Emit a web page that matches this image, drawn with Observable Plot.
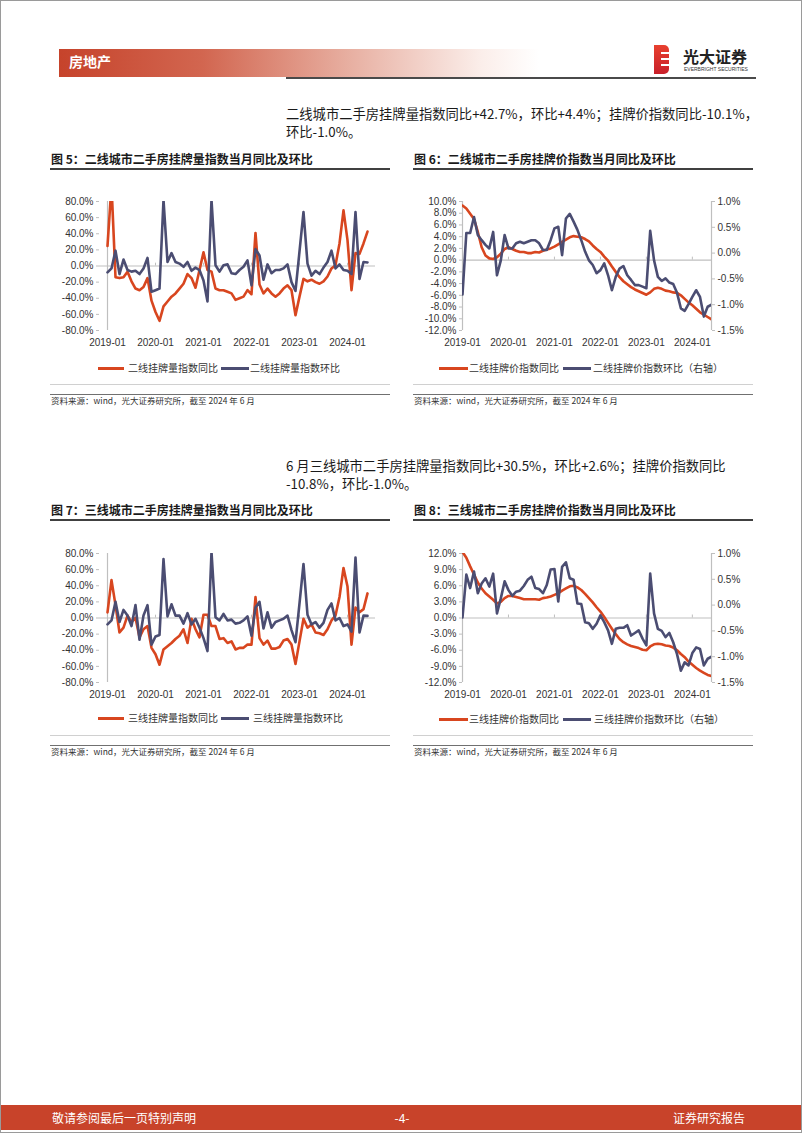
<!DOCTYPE html>
<html><head><meta charset="utf-8">
<script src="https://cdn.jsdelivr.net/npm/d3@7"></script>
<script src="https://cdn.jsdelivr.net/npm/@observablehq/plot@0.6"></script>
<style>
html,body{margin:0;padding:0;background:#fff;}
#page{position:relative;width:802px;height:1133px;overflow:hidden;background:#fff;box-sizing:border-box;border:1px solid #9a9a9a;font-family:"Noto Sans CJK SC","Noto Sans",sans-serif;}
.abs{position:absolute;white-space:nowrap;}
.title{font-size:12px;font-weight:bold;color:#1a1a1a;line-height:1;}
.tline{position:absolute;height:1.5px;background:#404040;}
.sline{position:absolute;height:1px;background:#d0d0d0;}
.sline2{position:absolute;height:1px;background:#707070;}
.src{font-size:8.5px;color:#333;line-height:1;}
.para{font-size:13.3px;color:#1a1a1a;line-height:1;}
.leg{font-size:10px;color:#333;line-height:1;}
.sw{position:absolute;height:3px;}
.chart{position:absolute;}
</style></head>
<body><div id="page"></div>
<script>
// ---------- data ----------
const months = d3.utcMonth.range(new Date(Date.UTC(2019,0,1)), new Date(Date.UTC(2024,6,1))).map(d3.utcFormat("%Y-%m"));
const yearTicks = ["2019-01","2020-01","2021-01","2022-01","2023-01","2024-01"];

// Fig 5: 二线 listing volume index
const tier2VolYoY = [25,100,-14,-15,-14,-7,-19,-28,-30,-26,-15,-43,
  -57,-68,-50,-44,-38,-34,-28,-22,-10,-15,-27,-5,
  17,-5,-7,-28,-30,-30,-32,-34,-42,-40,-38,-30,
  -35,41,-23,-34,-28,-34,-38,-34,-28,-24,-30,-61,
  -38,-16,-19,-17,-20,-22,-19,-13,-3,1,28,69,
  32,-30,16,15,28,42.7];
const tier2VolMoM = [-8,-3,19,-10,8,-5,-7,-6,-10,-3,10,-32,
  -30,-28,82,5,16,5,3,-1,5,-6,-2,-5,
  -18,-44,82,1,-7,1,2,-9,-10,-5,-1,7,
  -24,21,13,-17,2,-9,-5,-5,-3,2,-20,-31,
  18,67,3,-12,-6,-10,-2,5,19,-3,2,-5,
  -6,-10,67,-16,5,4.4];

// Fig 6: 二线 listing price index
const tier2PriceYoY = [9.3,8.8,7.9,7.0,4.8,2.2,0.8,0.3,0.2,0.5,1.1,1.9,
  2.2,1.9,1.6,1.4,1.4,1.2,1.2,1.4,1.3,1.6,1.8,2.0,
  2.3,2.7,3.1,3.5,3.9,4.1,4.0,3.9,3.6,3.2,2.5,1.9,
  1.4,0.6,-0.1,-1.1,-2.0,-2.9,-3.6,-4.1,-4.6,-5.0,-5.3,-5.6,
  -5.9,-5.5,-4.9,-4.7,-4.9,-5.2,-5.3,-5.5,-5.6,-6.0,-6.6,-7.2,
  -7.7,-8.3,-8.9,-9.3,-9.7,-10.1];
const tier2PriceMoM = [-0.80,0.39,0.39,0.70,0.35,0.25,0.16,0.09,0.41,-0.43,-0.14,0.35,
  0.09,0.09,0.19,0.22,0.19,0.22,0.25,0.25,0.19,0.06,0.06,0.25,
  0.48,0.51,-0.04,0.67,0.76,0.61,0.45,0.25,0.03,-0.14,-0.23,-0.39,
  -0.33,-0.20,-0.43,-0.72,-0.46,-0.30,-0.25,-0.43,-0.52,-0.62,-0.62,-0.65,
  -0.68,0.43,-0.14,-0.46,-0.54,-0.49,-0.57,-0.60,-0.77,-1.07,-1.12,-0.99,
  -0.85,-0.72,-0.85,-1.23,-1.04,-1.0];

// Fig 7: 三线 listing volume index
const tier3VolYoY = [7,47,16,-18,-12,3,-5,0,-24,-14,-10,-37,
  -45,-58,-39,-35,-31,-26,-22,-14,-31,-1,-14,-24,
  4,4,-10,-10,-26,-25,-31,-29,-39,-37,-37,-33,
  -33,26,-25,-33,-28,-38,-38,-36,-28,-26,-33,-57,
  -29,-1,-12,-8,-18,-19,-21,-14,-3,3,26,62,
  39,-33,13,7,11,30.5];
const tier3VolMoM = [-8,-3,20,-5,10,3,-10,16,-27,3,16,-33,
  -23,-21,73,2,17,3,3,-7,6,-8,-1,-12,
  -25,-41,82,1,-3,5,-3,-2,-7,-6,-3,2,
  -22,13,20,-13,7,-12,-5,-3,-1,3,-15,-30,
  18,67,4,-8,-5,-12,-6,10,18,-3,0,-10,
  -8,-17,75,-18,3,2.6];

// Fig 8: 三线 listing price index
const tier3PriceYoY = [12.3,11.2,9.6,8.1,6.6,5.5,4.6,4.0,3.4,2.7,3.0,3.7,
  4.1,4.1,3.9,3.7,3.5,3.5,3.5,3.5,3.4,3.7,3.8,4.0,
  4.3,4.6,5.1,5.5,5.9,6.0,5.7,5.2,4.5,3.7,2.9,2.0,
  1.2,0.2,-0.9,-2.0,-3.0,-3.9,-4.5,-4.9,-5.2,-5.4,-5.6,-5.9,
  -6.0,-5.3,-4.9,-4.8,-4.9,-5.1,-5.2,-5.5,-6.0,-6.7,-7.3,-8.1,
  -8.7,-9.3,-9.8,-10.2,-10.6,-10.8];
const tier3PriceMoM = [-0.24,0.59,0.33,0.65,0.23,0.42,0.52,0.36,0.61,-0.16,0.13,0.46,
  0.29,0.18,0.26,0.28,0.37,0.49,0.55,0.33,0.31,0.23,0.39,0.69,
  0.70,0.07,0.74,0.83,0.52,0.49,0.03,0.02,-0.33,-0.35,-0.46,-0.36,
  -0.20,-0.33,-0.49,-0.75,-0.46,-0.44,-0.44,-0.39,-0.59,-0.54,-0.49,-0.65,
  -0.78,0.61,-0.16,-0.46,-0.50,-0.62,-0.54,-0.72,-0.95,-1.27,-1.11,-1.17,
  -0.93,-0.82,-0.85,-1.17,-1.04,-1.0];

const volTicks = [-80,-60,-40,-20,0,20,40,60,80];
const price2LeftTicks = [-12,-10,-8,-6,-4,-2,0,2,4,6,8,10];
const price3LeftTicks = [-12,-9,-6,-3,0,3,6,9,12];
const priceRightTicks = [-1.5,-1.0,-0.5,0,0.5,1.0];

// ---------- style ----------
const ORANGE = "#d8461f";
const NAVY = "#4b4d72";
const AXIS = "#bfbfbf";
const TXT = "#333333";
const pct = d => d.toFixed(1) + "%";
const baseStyle = {fontFamily: "'Liberation Sans', Arial, sans-serif", fontSize: "10px", color: TXT, background: "transparent", overflow: "visible"};

const page = document.getElementById("page");
function add(html){ page.insertAdjacentHTML("beforeend", html); }

function volChart(yoy, mom){
  const a = months.map((m,i)=>({m, v: yoy[i]}));
  const b = months.map((m,i)=>({m, v: mom[i]}));
  return Plot.plot({
    width: 350, height: 165, marginLeft: 58, marginRight: 16, marginTop: 10, marginBottom: 26,
    style: baseStyle,
    x: {type: "point", domain: months, padding: 0},
    y: {domain: [-80, 80]},
    marks: [
      Plot.ruleY([0], {stroke: AXIS, strokeWidth: 1.2}),
      Plot.ruleX(yearTicks, {x: d => d, y1: 0, y2: 3.5, stroke: AXIS}),
      Plot.ruleX([months[0]], {stroke: AXIS, strokeWidth: 1.2}),
      Plot.axisY(volTicks, {tickSize: 3, tickPadding: 3, tickFormat: pct, stroke: AXIS, fill: TXT, label: null}),
      Plot.axisX(yearTicks, {tickSize: 0, tickPadding: 8, fill: TXT, label: null}),
      Plot.line(a, {x: "m", y: "v", stroke: ORANGE, strokeWidth: 2.6, clip: true}),
      Plot.line(b, {x: "m", y: "v", stroke: NAVY, strokeWidth: 2.6, clip: true})
    ]
  });
}

function priceChart(yoy, mom, leftDomain, leftTicks){
  const [lo, hi] = leftDomain;
  const rLo = -1.5, rHi = 1.0;
  const toLeft = v => lo + (v - rLo) * (hi - lo) / (rHi - rLo);
  const toRight = y => rLo + (y - lo) * (rHi - rLo) / (hi - lo);
  const a = months.map((m,i)=>({m, v: yoy[i]}));
  const b = months.map((m,i)=>({m, v: toLeft(mom[i])}));
  const tick = 3 * (hi - lo) / 129;
  return Plot.plot({
    width: 355, height: 165, marginLeft: 56, marginRight: 50, marginTop: 10, marginBottom: 26,
    style: baseStyle,
    x: {type: "point", domain: months, padding: 0},
    y: {domain: leftDomain},
    marks: [
      Plot.ruleY([0], {stroke: AXIS, strokeWidth: 1.2}),
      Plot.ruleX(yearTicks, {x: d => d, y1: 0, y2: tick, stroke: AXIS}),
      Plot.ruleX([months[0]], {stroke: AXIS, strokeWidth: 1.2}),
      Plot.ruleX([months[months.length-1]], {stroke: AXIS, strokeWidth: 1.2}),
      Plot.axisY(leftTicks, {anchor: "left", tickSize: 3, tickPadding: 3, tickFormat: pct, stroke: AXIS, fill: TXT, label: null}),
      Plot.axisY(priceRightTicks.map(toLeft), {anchor: "right", tickSize: 3, tickPadding: 3,
        tickFormat: d => pct(Math.round(toRight(d) * 10) / 10), stroke: AXIS, fill: TXT, label: null}),
      Plot.axisX(yearTicks, {tickSize: 0, tickPadding: 8, fill: TXT, label: null}),
      Plot.line(a, {x: "m", y: "v", stroke: ORANGE, strokeWidth: 2.6, clip: true}),
      Plot.line(b, {x: "m", y: "v", stroke: NAVY, strokeWidth: 2.6, clip: true})
    ]
  });
}

function place(node, left, top){
  node.classList.add("chart");
  node.style.left = left + "px";
  node.style.top = top + "px";
  page.appendChild(node);
}

// ---------- header ----------
add(`<div class="abs" style="left:58px;top:48px;width:480px;height:28px;background:linear-gradient(to right,#c6432b 0%,#d26650 30%,#e7aea0 60%,#fbeeea 88%,#ffffff 100%);"></div>`);
add(`<div class="abs" style="left:68px;top:52px;font-size:14px;font-weight:bold;color:#fff;line-height:17px;">房地产</div>`);
add(`<div class="abs" style="left:285px;top:76px;width:470px;height:2px;background:#4a4a4a;"></div>`);
// logo
add(`<div class="abs" style="left:653px;top:44px;width:15px;height:29px;background:linear-gradient(to bottom,#e8402f,#c8202a);border-radius:0 5px 5px 0;"></div>`);
add(`<div class="abs" style="left:660px;top:51px;width:8px;height:2px;background:#fff;"></div>`);
add(`<div class="abs" style="left:660px;top:57px;width:8px;height:2px;background:#fff;"></div>`);
add(`<div class="abs" style="left:660px;top:63px;width:8px;height:2px;background:#fff;"></div>`);
add(`<div class="abs" style="left:682px;top:46px;font-size:16px;font-weight:bold;color:#222;line-height:18px;letter-spacing:0px;">光大证券</div>`);
add(`<div class="abs" style="left:683px;top:65px;font-size:5px;color:#333;line-height:6px;font-family:'Liberation Sans',Arial;">EVERBRIGHT SECURITIES</div>`);

// ---------- paragraph 1 ----------
add(`<div class="abs para" style="left:285px;top:106px;">二线城市二手房挂牌量指数同比+42.7%，环比+4.4%；挂牌价指数同比-10.1%，</div>`);
add(`<div class="abs para" style="left:285px;top:124px;">环比-1.0%。</div>`);

// ---------- figure blocks ----------
function block(opts){
  const {titleX, titleY, lineX1, lineX2, legY, leg, srcY, title} = opts;
  add(`<div class="abs title" style="left:${titleX}px;top:${titleY-6}px;">${title}</div>`);
  add(`<div class="tline" style="left:${lineX1}px;top:${titleY+9}px;width:${lineX2-lineX1}px;"></div>`);
  add(`<div class="sw" style="left:${leg[0]}px;top:${legY-1}px;width:${leg[1]}px;background:${ORANGE};"></div>`);
  add(`<div class="abs leg" style="left:${leg[2]}px;top:${legY-5}px;">${leg[3]}</div>`);
  add(`<div class="sw" style="left:${leg[4]}px;top:${legY-1}px;width:${leg[5]}px;background:${NAVY};"></div>`);
  add(`<div class="abs leg" style="left:${leg[6]}px;top:${legY-5}px;">${leg[7]}</div>`);
  add(`<div class="sline" style="left:${lineX1}px;top:${srcY-16}px;width:${lineX2-lineX1}px;"></div>`);
  add(`<div class="sline2" style="left:${lineX1}px;top:${srcY-6}px;width:${lineX2-lineX1}px;"></div>`);
  add(`<div class="abs src" style="left:${titleX}px;top:${srcY-4}px;">资料来源：wind，光大证券研究所，截至 2024 年 6 月</div>`);
}

block({title:"图 5：二线城市二手房挂牌量指数当月同比及环比", titleX:50, titleY:158, lineX1:49, lineX2:389, legY:367,
  leg:[97,26,127,"二线挂牌量指数同比",220,28,249,"二线挂牌量指数环比"], srcY:399});
place(volChart(tier2VolYoY, tier2VolMoM), 40, 190);

block({title:"图 6：二线城市二手房挂牌价指数当月同比及环比", titleX:413, titleY:158, lineX1:412, lineX2:752, legY:367,
  leg:[438,29,468,"二线挂牌价指数同比",562,28,592,"二线挂牌价指数环比（右轴）"], srcY:399});
place(priceChart(tier2PriceYoY, tier2PriceMoM, [-12, 10], price2LeftTicks), 405, 190);

// ---------- paragraph 2 ----------
add(`<div class="abs para" style="left:285px;top:458px;">6 月三线城市二手房挂牌量指数同比+30.5%，环比+2.6%；挂牌价指数同比</div>`);
add(`<div class="abs para" style="left:285px;top:476px;">-10.8%，环比-1.0%。</div>`);

block({title:"图 7：三线城市二手房挂牌量指数当月同比及环比", titleX:50, titleY:509, lineX1:49, lineX2:389, legY:717,
  leg:[97,26,127,"三线挂牌量指数同比",220,28,252,"三线挂牌量指数环比"], srcY:750});
place(volChart(tier3VolYoY, tier3VolMoM), 40, 542);

block({title:"图 8：三线城市二手房挂牌价指数当月同比及环比", titleX:413, titleY:509, lineX1:412, lineX2:752, legY:718,
  leg:[438,29,468,"三线挂牌价指数同比",562,28,593,"三线挂牌价指数环比（右轴）"], srcY:750});
place(priceChart(tier3PriceYoY, tier3PriceMoM, [-12, 12], price3LeftTicks), 405, 542);

// ---------- footer ----------
add(`<div class="abs" style="left:0;top:1104px;width:802px;height:25px;background:#c8432a;"></div>`);
add(`<div class="abs" style="left:51px;top:1109px;font-size:12px;color:#fff;line-height:15px;">敬请参阅最后一页特别声明</div>`);
add(`<div class="abs" style="left:391px;top:1109px;width:20px;text-align:center;font-size:12px;color:#fff;line-height:15px;">-4-</div>`);
add(`<div class="abs" style="left:672px;top:1109px;width:72px;text-align:right;font-size:12px;color:#fff;line-height:15px;">证券研究报告</div>`);
</script>
</body></html>
